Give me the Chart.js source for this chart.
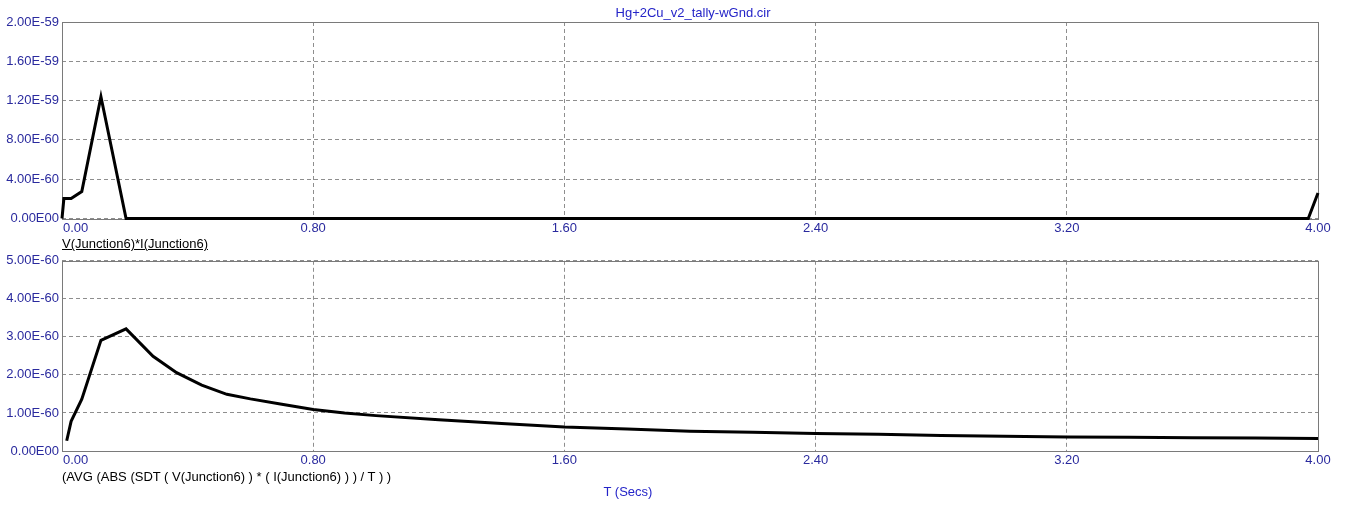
<!DOCTYPE html>
<html>
<head>
<meta charset="utf-8">
<script src="https://cdn.jsdelivr.net/npm/chart.js@4/dist/chart.umd.min.js"></script>
<style>
  html, body { margin: 0; padding: 0; background: #fff; }
  #wrap { position: relative; width: 1353px; height: 513px; overflow: hidden; font-family: 'Liberation Sans', Arial, sans-serif; font-size: 13px; }
  canvas { position: absolute; left: 0; }
  .lbl { position: absolute; line-height: 15px; white-space: pre; }
</style>
</head>
<body>
<div id="wrap">
  <canvas id="topChart" style="top:0px"></canvas>
  <canvas id="botChart" style="top:250px"></canvas>
  <div class="lbl" style="left:693px; top:5px; transform:translateX(-50%); color:#2424c8;">Hg+2Cu_v2_tally-wGnd.cir</div>
  <div class="lbl" style="left:62px; top:236px; color:#000; text-decoration:underline;">V(Junction6)*I(Junction6)</div>
  <div class="lbl" style="left:62px; top:469px; color:#000;">(AVG (ABS (SDT ( V(Junction6) ) * ( I(Junction6) ) ) / T ) )</div>
  <div class="lbl" style="left:628px; top:484px; transform:translateX(-50%); color:#2424c8;">T (Secs)</div>
</div>
<script>
// Eje de tiempo (segundos) comun a las dos graficas
var xTicks = [0, 0.8, 1.6, 2.4, 3.2, 4.0];
var xTickLabels = ['0.00', '0.80', '1.60', '2.40', '3.20', '4.00'];

// Grafica superior: V(Junction6)*I(Junction6)
var topT = [0, 0.006, 0.029, 0.063, 0.124, 0.204, 3.969, 4.0];
var topP = [0, 2.03e-60, 2.03e-60, 2.75e-60, 1.24e-59, 0, 0, 2.6e-60];
var topYTicks = [0, 4e-60, 8e-60, 1.2e-59, 1.6e-59, 2e-59];
var topYLabels = ['0.00E00', '4.00E-60', '8.00E-60', '1.20E-59', '1.60E-59', '2.00E-59'];

// Grafica inferior: promedio de la potencia
var botT = [0.015, 0.029, 0.063, 0.124, 0.204, 0.29, 0.365, 0.445, 0.525, 0.6, 0.7, 0.8, 0.9, 1.0,
            1.2, 1.4, 1.6, 1.8, 2.0, 2.2, 2.4, 2.6, 2.8, 3.0, 3.2, 3.4, 3.6, 3.8, 4.0];
var botAvg = [0.27e-60, 0.78e-60, 1.36e-60, 2.91e-60, 3.21e-60, 2.49e-60, 2.06e-60, 1.73e-60, 1.49e-60,
              1.37e-60, 1.23e-60, 1.09e-60, 1.0e-60, 0.93e-60, 0.82e-60, 0.72e-60, 0.63e-60, 0.58e-60,
              0.52e-60, 0.49e-60, 0.46e-60, 0.44e-60, 0.41e-60, 0.39e-60, 0.37e-60, 0.36e-60, 0.35e-60,
              0.34e-60, 0.33e-60];
var botYTicks = [0, 1e-60, 2e-60, 3e-60, 4e-60, 5e-60];
var botYLabels = ['0.00E00', '1.00E-60', '2.00E-60', '3.00E-60', '4.00E-60', '5.00E-60'];

var FONT = { family: "'Liberation Sans', Arial, sans-serif", size: 13 };
var BLUE = '#2a2a9e';
var GRID = '#8e8e8e';

// Marco gris alrededor del area y etiquetas del eje x
var framePlugin = {
    id: 'frame',
    beforeDatasetsDraw: function(chart) {
        var a = chart.chartArea, ctx = chart.ctx;
        ctx.save();
        ctx.strokeStyle = '#7a7a7a';
        ctx.lineWidth = 1;
        ctx.strokeRect(Math.round(a.left) + 0.5, Math.round(a.top) + 0.5,
                       Math.round(a.right - a.left), Math.round(a.bottom - a.top));
        ctx.restore();
    },
    afterDraw: function(chart) {
        var a = chart.chartArea, ctx = chart.ctx, sx = chart.scales.x;
        ctx.save();
        ctx.font = '13px ' + FONT.family;
        ctx.fillStyle = BLUE;
        ctx.textBaseline = 'middle';
        xTicks.forEach(function(v, i) {
            ctx.textAlign = i === 0 ? 'left' : 'center';
            ctx.fillText(xTickLabels[i], sx.getPixelForValue(v) + (i === 0 ? 1 : 0), a.bottom + 9.5);
        });
        ctx.restore();
    }
};

function makePoints(xs, ys) {
    return xs.map(function(x, i) { return { x: x, y: ys[i] }; });
}

function makeChart(id, height, top, xH, xs, ys, yTicks, yLabels) {
    var canvas = document.getElementById(id);
    canvas.width = 1353;
    canvas.height = height;
    canvas.style.width = '1353px';
    canvas.style.height = height + 'px';
    return new Chart(canvas.getContext('2d'), {
        type: 'line',
        data: {
            datasets: [{
                data: makePoints(xs, ys),
                borderColor: '#000',
                borderWidth: 3,
                borderJoinStyle: 'miter',
                pointRadius: 0,
                tension: 0,
                fill: false,
                clip: false
            }]
        },
        options: {
            responsive: false,
            animation: false,
            devicePixelRatio: 1,
            layout: { padding: { top: top, right: 35, left: 0, bottom: 0 } },
            plugins: { legend: { display: false }, tooltip: { enabled: false } },
            scales: {
                x: {
                    type: 'linear',
                    min: 0,
                    max: 4,
                    afterBuildTicks: function(s) { s.ticks = xTicks.map(function(v) { return { value: v }; }); },
                    afterFit: function(s) { s.height = xH; },
                    ticks: { display: false },
                    grid: { color: GRID, drawTicks: false },
                    border: { display: false, dash: [4, 3] }
                },
                y: {
                    min: 0,
                    max: yTicks[yTicks.length - 1],
                    afterBuildTicks: function(s) { s.ticks = yTicks.map(function(v) { return { value: v }; }); },
                    afterFit: function(s) { s.width = 62; },
                    ticks: {
                        color: BLUE,
                        font: FONT,
                        padding: 3,
                        callback: function(v, i) { return yLabels[i]; }
                    },
                    grid: { color: GRID, drawTicks: false },
                    border: { display: false, dash: [4, 3] }
                }
            }
        },
        plugins: [framePlugin]
    });
}

makeChart('topChart', 250, 22, 31.5, topT, topP, topYTicks, topYLabels);
makeChart('botChart', 263, 10.5, 62, botT, botAvg, botYTicks, botYLabels);
</script>
</body>
</html>
